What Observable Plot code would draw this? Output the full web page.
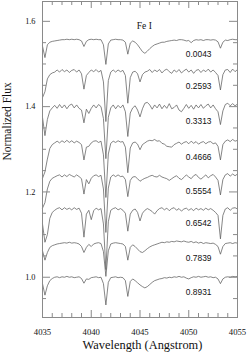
<!DOCTYPE html>
<html><head><meta charset="utf-8">
<script src="https://cdn.jsdelivr.net/npm/d3@7"></script>
<script src="https://cdn.jsdelivr.net/npm/@observablehq/plot@0.6"></script>
<style>body{margin:0;background:#fff} svg{display:block}</style>
</head><body><div id="chart"></div>
<script>
const wavelength = [4035,4035.25,4035.5,4035.75,4036,4036.25,4036.5,4036.75,4037,4037.25,
4037.5,4037.75,4038,4038.25,4038.5,4038.75,4039,4039.25,4039.5,4039.75,
4040,4040.25,4040.5,4040.75,4041,4041.25,4041.5,4041.75,4042,4042.25,
4042.5,4042.75,4043,4043.25,4043.5,4043.75,4044,4044.25,4044.5,4044.75,
4045,4045.25,4045.5,4045.75,4046,4046.25,4046.5,4046.75,4047,4047.25,
4047.5,4047.75,4048,4048.25,4048.5,4048.75,4049,4049.25,4049.5,4049.75,
4050,4050.25,4050.5,4050.75,4051,4051.25,4051.5,4051.75,4052,4052.25,
4052.5,4052.75,4053,4053.25,4053.5,4053.75,4054,4054.25,4054.5,4054.75,4055];

const phases = ["0.0043","0.2593","0.3313","0.4666","0.5554","0.6542","0.7839","0.8931"];
const continuum = [1.557,1.483,1.400,1.317,1.237,1.160,1.080,1.000];

const flux0043 = [0.985,0.958,0.988,0.994,0.996,0.997,0.998,0.999,1.000,1.000,
1.001,1.000,1.001,1.000,1.001,1.000,0.997,0.984,0.996,1.000,
1.001,1.000,1.001,1.000,1.000,0.988,0.942,0.990,0.999,1.000,
1.001,1.000,1.000,0.999,0.994,0.966,0.992,0.997,0.994,0.988,
0.980,0.972,0.968,0.973,0.979,0.984,0.988,0.990,0.992,0.994,
0.994,0.996,0.997,0.998,0.999,0.998,1.000,1.000,0.999,0.997,
0.998,0.993,0.998,1.000,0.999,1.000,0.998,1.000,1.000,0.999,
1.000,0.999,0.995,0.980,0.994,0.999,0.998,1.000,1.001,1.000,1.000];
const flux2593 = [0.938,0.952,0.982,0.992,0.996,0.998,1.003,0.998,1.004,0.999,
1.003,0.997,1.002,1.004,0.998,1.003,0.994,0.958,0.990,0.997,
1.003,0.999,1.004,0.998,1.002,0.975,0.882,0.978,0.998,1.003,
0.998,1.003,0.999,1.002,0.990,0.925,0.985,0.998,1.000,0.994,
0.975,0.992,0.998,1.000,1.004,0.997,1.003,0.999,1.004,0.996,
1.002,1.005,0.999,0.995,1.003,0.998,1.004,0.996,1.001,1.005,
0.998,1.003,0.995,1.002,1.004,0.997,1.003,0.999,1.005,0.998,
1.003,0.997,0.990,0.956,0.992,1.003,1.004,0.997,1.005,0.999,1.004];
const flux3313 = [0.975,0.932,0.970,0.990,0.997,1.003,0.996,1.005,0.997,1.004,
0.995,1.003,1.006,0.997,1.004,0.996,0.992,0.962,0.994,0.984,
0.996,1.004,0.997,1.005,1.000,0.972,0.878,0.975,0.997,1.004,
0.995,1.003,0.997,1.004,0.988,0.930,0.985,0.997,1.002,0.992,
0.976,0.995,1.008,1.010,1.004,0.994,1.004,0.997,1.006,0.995,
1.003,0.996,1.007,0.995,0.998,1.004,0.992,0.988,0.996,1.005,
0.996,1.003,0.994,1.004,0.997,1.005,0.996,1.002,1.006,0.997,
1.004,0.995,0.988,0.958,0.990,1.005,1.008,1.002,1.007,1.002,1.006];
const flux4666 = [0.915,0.930,0.960,0.985,0.994,0.998,1.002,0.998,1.003,0.999,
1.004,0.999,1.003,0.998,1.002,0.999,0.994,0.958,0.988,0.990,
0.998,1.002,1.003,0.999,1.002,0.970,0.870,0.972,0.997,1.002,
0.999,1.003,1.000,1.001,0.988,0.928,0.986,0.998,1.000,0.995,
0.982,0.994,0.998,1.002,1.004,1.003,1.006,1.002,1.003,0.997,
0.995,0.990,0.989,0.988,0.994,0.997,1.000,0.995,0.999,1.001,
0.996,1.002,0.997,1.001,0.995,0.999,1.001,0.996,1.000,1.001,
0.996,0.998,0.990,0.958,0.994,1.002,1.005,1.001,1.006,1.002,1.004];
const flux5554 = [0.925,0.938,0.970,0.988,0.995,0.998,1.001,1.003,0.998,1.003,
0.999,1.004,1.001,0.998,1.003,0.999,0.994,0.958,0.992,0.982,
0.995,1.001,1.003,0.999,1.002,0.970,0.868,0.972,0.998,1.003,
0.999,1.003,0.999,1.000,0.992,0.952,0.990,0.998,0.999,0.994,
0.988,0.992,0.995,0.997,1.000,1.002,0.999,0.998,1.002,0.998,
0.996,0.994,0.990,0.994,0.998,1.001,0.995,0.992,0.997,1.003,
0.998,0.994,1.001,1.004,0.997,0.993,0.998,1.003,0.996,1.001,
1.004,0.998,0.990,0.956,0.992,1.003,1.006,1.000,1.005,1.001,1.005];
const flux6542 = [0.965,0.922,0.940,0.978,0.992,0.997,1.001,1.003,0.998,1.003,
0.999,1.002,0.998,1.003,0.999,1.002,0.990,0.934,0.988,0.997,
0.975,0.996,1.002,0.998,1.001,0.965,0.858,0.970,0.997,1.001,
1.003,0.998,1.001,0.997,0.990,0.948,0.988,0.997,1.000,0.992,
0.972,0.990,0.997,1.001,0.998,0.994,0.988,0.996,1.001,1.003,
0.998,1.002,0.996,1.001,1.003,0.997,1.001,0.995,1.000,1.002,
0.997,1.001,0.996,1.002,0.998,1.001,0.997,1.002,0.998,1.001,
0.997,0.992,0.985,0.930,0.985,1.000,1.003,0.997,1.002,1.003,1.000];
const flux7839 = [0.982,0.960,0.978,0.990,0.994,0.996,0.998,0.999,1.000,1.001,
1.000,1.002,1.000,1.001,1.000,0.998,0.992,0.978,0.990,0.997,
0.992,0.998,1.000,1.001,0.999,0.980,0.922,0.982,0.998,1.000,
1.001,1.000,0.999,0.998,0.992,0.960,0.990,0.996,0.992,0.986,
0.980,0.978,0.982,0.987,0.991,0.994,0.996,0.998,1.000,1.002,
1.001,1.003,1.002,1.004,1.003,1.005,1.004,1.003,1.005,1.003,
1.002,1.004,1.001,1.003,1.000,1.002,0.999,1.001,1.000,0.999,
1.000,0.997,0.992,0.974,0.992,0.999,1.000,1.001,0.999,1.001,1.000];
const flux8931 = [0.985,0.958,0.980,0.992,0.997,1.000,1.001,0.999,1.001,1.000,
1.002,1.000,1.001,0.999,1.000,1.001,0.997,0.986,0.996,0.995,
0.999,1.000,1.001,0.999,1.000,0.985,0.935,0.988,0.999,1.000,
1.001,0.999,1.000,0.999,0.992,0.955,0.990,0.996,0.992,0.987,
0.982,0.978,0.975,0.978,0.983,0.988,0.992,0.994,0.996,0.997,
0.999,0.998,1.000,0.999,1.001,1.000,1.002,1.000,1.001,0.998,
0.996,0.999,1.001,1.000,1.002,1.000,1.001,1.002,1.000,1.001,
0.999,1.000,0.996,0.985,0.996,1.000,1.001,1.000,1.002,1.001,1.002];

const xMajor = [4035,4040,4045,4050,4055];
const xMinor = [4036,4037,4038,4039,4041,4042,4043,4044,4046,4047,4048,4049,4051,4052,4053,4054];
const yMajor = [1.0,1.2,1.4,1.6];
const yMinor = [0.95,1.05,1.1,1.15,1.25,1.3,1.35,1.45,1.5,1.55];
const lineLabel = "Fe I";
const xTitle = "Wavelength (Angstrom)";
const yTitle = "Normalized Flux";

const spectra = [flux0043,flux2593,flux3313,flux4666,flux5554,flux6542,flux7839,flux8931];
const rows = spectra.flatMap((f, k) => f.map((v, i) => ({phase: phases[k], x: wavelength[i], y: continuum[k] + v - 1})));
const labelRows = phases.map((p, k) => ({phase: p, level: continuum[k]}));

const W = 249, H = 352, mT = 1, mB = 35, mL = 42, mR = 12;
const fw = W - mL - mR, fh = H - mT - mB;
const axisColor = "#8a8a8a";
const serif = "Liberation Serif";
const sans = "Liberation Sans";

const plot = Plot.plot({
  width: W, height: H,
  marginTop: mT, marginBottom: mB, marginLeft: mL, marginRight: mR,
  x: {domain: [4035, 4055], axis: null},
  y: {domain: [0.9056, 1.6465], axis: null},
  style: {background: "#fff", overflow: "visible"},
  marks: [
    Plot.line(rows, {x: "x", y: "y", z: "phase", stroke: "#5e5e5e", strokeWidth: 0.75}),
    Plot.frame({stroke: axisColor, strokeWidth: 1}),
    Plot.ruleX(xMajor, {stroke: axisColor, insetTop: fh - 7}),
    Plot.ruleX(xMinor, {stroke: axisColor, insetTop: fh - 4}),
    Plot.ruleX(xMajor, {stroke: axisColor, insetBottom: fh - 7}),
    Plot.ruleX(xMinor, {stroke: axisColor, insetBottom: fh - 4}),
    Plot.ruleY(yMajor, {stroke: axisColor, insetRight: fw - 8}),
    Plot.ruleY(yMinor, {stroke: axisColor, insetRight: fw - 4}),
    Plot.ruleY(yMajor, {stroke: axisColor, insetLeft: fw - 8}),
    Plot.ruleY(yMinor, {stroke: axisColor, insetLeft: fw - 4}),
    Plot.text(xMajor, {x: d => d, text: d => String(d), frameAnchor: "bottom", dy: 17.5, lineAnchor: "bottom",
      fontFamily: serif, fontSize: 8.7, fill: "#111", ariaLabel: "xlabels"}),
    Plot.text(yMajor, {y: d => d, text: d => d.toFixed(1), frameAnchor: "left", dx: -7, textAnchor: "end",
      lineAnchor: "middle", fontFamily: serif, fontSize: 8.3, fill: "#111", ariaLabel: "ylabels"}),
    Plot.text(labelRows, {x: 4049.7, y: "level", text: "phase", dy: 17.5, textAnchor: "start", lineAnchor: "bottom",
      fontFamily: sans, fontSize: 8.4, fill: "#111", ariaLabel: "phaselabels"}),
    Plot.text([lineLabel], {x: 4044.67, y: 1.582, text: d => d, textAnchor: "start", lineAnchor: "bottom",
      fontFamily: serif, fontSize: 9.5, fill: "#111", ariaLabel: "linelabel"}),
    Plot.text([xTitle], {text: d => d, frameAnchor: "bottom", dx: 2.5, dy: 31.5, lineAnchor: "bottom",
      fontFamily: serif, fontSize: 12.4, fill: "#111", ariaLabel: "xtitle"}),
    Plot.text([yTitle], {text: d => d, frameAnchor: "left", dx: -32, dy: 1, rotate: -90, lineAnchor: "bottom",
      fontFamily: serif, fontSize: 11.5, fill: "#111", ariaLabel: "ytitle"})
  ]
});

const scaleMap = {xlabels: [1, 1.4], ylabels: [1, 1.45], phaselabels: [1, 1.28], linelabel: [1, 1.3], xtitle: [1, 1.1], ytitle: [1, 1.13]};
for (const [label, [sx, sy]] of Object.entries(scaleMap)) {
  plot.querySelectorAll(`g[aria-label="${label}"] text`).forEach(t => {
    const tr = t.getAttribute("transform");
    if (tr) {
      t.setAttribute("transform", tr + ` scale(${sx},${sy})`);
    } else {
      const x = t.x.baseVal.length ? t.x.baseVal[0].value : 0;
      const ys = t.getAttribute("y");
      let yv = 0;
      if (ys && !/em$/.test(ys)) { yv = parseFloat(ys); t.removeAttribute("y"); }
      t.removeAttribute("x");
      t.setAttribute("transform", `translate(${x},${yv}) scale(${sx},${sy})`);
    }
  });
}
document.getElementById("chart").appendChild(plot);
</script>
</body></html>
